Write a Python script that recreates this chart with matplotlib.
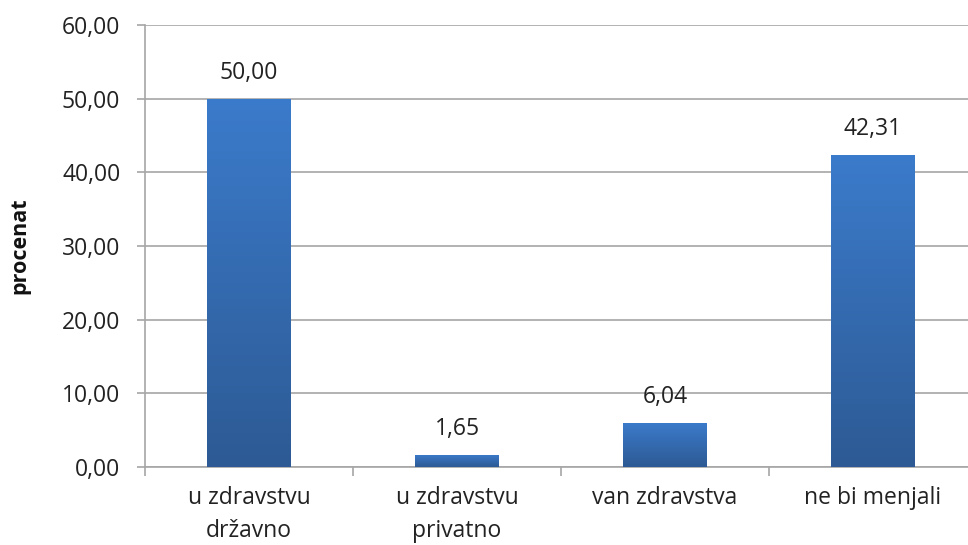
import matplotlib
matplotlib.use("Agg")
import matplotlib.pyplot as plt
import numpy as np
from matplotlib.colors import LinearSegmentedColormap

categories = ["u zdravstvu\ndržavno", "u zdravstvu\nprivatno", "van zdravstva", "ne bi menjali"]
values = [50.00, 1.65, 6.04, 42.31]
y_ticks = [0, 10, 20, 30, 40, 50, 60]
y_label = "procenat"

plt.rcParams['font.family'] = ['Open Sans', 'DejaVu Sans']

W, H = 968, 545
fig = plt.figure(figsize=(W / 100, H / 100), dpi=100)
# axes: x from 145 to 977 px, y from 25 to 467 px
left, right, top, bottom = 145, 977, 25, 467
ax = fig.add_axes([left / W, 1 - bottom / H, (right - left) / W, (bottom - top) / H])

x = np.arange(len(categories))
bars = ax.bar(x, values, width=0.4, color="#3a74bd", zorder=2, edgecolor="none")

cmap = LinearSegmentedColormap.from_list("g", ["#2d5a94", "#3b7bcb"])
grad = np.linspace(0, 1, 256).reshape(-1, 1)
for b in bars:
    bx, by, bw, bh = b.get_x(), b.get_y(), b.get_width(), b.get_height()
    im = ax.imshow(grad, extent=[bx, bx + bw, by, by + bh], origin="lower",
                   cmap=cmap, aspect="auto", zorder=3)
    im.set_clip_path(b)

for xi, v in zip(x, values):
    ax.annotate(f"{v:.2f}".replace(".", ","), (xi, v), xytext=(0, 10),
                textcoords="offset points", ha="center", va="bottom",
                fontsize=16.5, color="#222222")

ax.set_xlim(-0.5, len(categories) - 0.5)
ax.set_ylim(0, 60)
ax.set_yticks(y_ticks)
ax.set_yticklabels([f"{t:.2f}".replace(".", ",") for t in y_ticks], fontsize=16.5, color="#222222")
ax.yaxis.grid(True, color="#a6a6a6", linewidth=1.2, zorder=0)
ax.set_axisbelow(True)

ax.set_xticks(x)
ax.set_xticklabels(categories, fontsize=16.5, color="#222222", linespacing=1.45)
ax.tick_params(axis="x", length=0, pad=14)
ax.set_xticks(np.arange(-0.5, len(categories), 1), minor=True)
ax.tick_params(axis="x", which="minor", length=6.5, color="#a6a6a6", width=1.2)
ax.tick_params(axis="y", length=5.8, color="#a6a6a6", width=1.2, pad=12)

for s in ["top", "right"]:
    ax.spines[s].set_visible(False)
for s in ["left", "bottom"]:
    ax.spines[s].set_color("#a6a6a6")
    ax.spines[s].set_linewidth(1.2)

ax.set_ylabel(y_label, fontsize=15.5, fontweight="bold", color="#111111")
ax.yaxis.set_label_coords((20 - left) / (right - left), 0.5)
ax.yaxis.label.set_va("center")

fig.savefig("out.png", dpi=100)
